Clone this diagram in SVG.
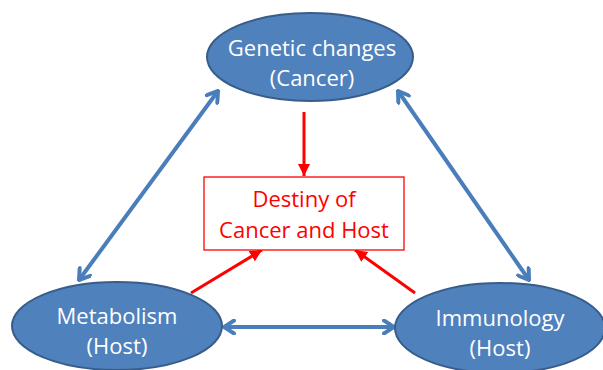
<svg xmlns="http://www.w3.org/2000/svg" width="603" height="370" viewBox="0 0 603 370">
<defs>
<style>
.node ellipse{fill:#4F81BD;stroke:#385D8A;stroke-width:2}
.node text{font-family:"Open Sans","Liberation Sans",sans-serif;font-size:22px;fill:#FFFFFF;text-anchor:middle}
.dest rect{fill:#FFFFFF;stroke:#FF0000;stroke-width:1.3}
.dest text{font-family:"Open Sans","Liberation Sans",sans-serif;font-size:22px;fill:#FF0000;text-anchor:middle}
.blue{stroke:#4A7EBB;stroke-width:4;fill:none;marker-start:url(#bh);marker-end:url(#bh)}
.red{stroke:#FF0000;stroke-width:3;fill:none;marker-end:url(#rh)}
</style>
<marker id="bh" viewBox="0 0 16 16" markerWidth="16" markerHeight="16" markerUnits="userSpaceOnUse" refX="14" refY="8" orient="auto-start-reverse">
<path d="M4,1.5 L14,8 L4,14.5" fill="none" stroke="#4A7EBB" stroke-width="4" stroke-linejoin="miter" stroke-linecap="round"/>
</marker>
<marker id="rh" viewBox="0 0 12 12" markerWidth="12" markerHeight="12" markerUnits="userSpaceOnUse" refX="12" refY="6" orient="auto">
<path d="M0,0 L12,6 L0,12 Z" fill="#FF0000"/>
</marker>
</defs>
<rect width="603" height="370" fill="#FFFFFF"/>
<g id="connectors">
<line class="blue" x1="79" y1="280" x2="218" y2="91"/>
<line class="blue" x1="398" y1="91" x2="529" y2="280"/>
<line class="blue" x1="224" y1="327" x2="394" y2="327"/>
<line class="red" x1="304" y1="112" x2="304" y2="176"/>
<line class="red" x1="191" y1="293" x2="262" y2="250"/>
<line class="red" x1="415" y1="293" x2="355" y2="250"/>
</g>
<g id="genetic" class="node">
<ellipse cx="310" cy="57" rx="103" ry="44"/>
<text x="312" y="56">Genetic changes</text>
<text x="312" y="86">(Cancer)</text>
</g>
<g id="destiny" class="dest">
<rect x="204" y="177" width="200" height="73"/>
<text x="304" y="207">Destiny of</text>
<text x="304" y="238">Cancer and Host</text>
</g>
<g id="metabolism" class="node">
<ellipse cx="117" cy="326" rx="105" ry="44"/>
<text x="117" y="324">Metabolism</text>
<text x="117" y="354">(Host)</text>
</g>
<g id="immunology" class="node">
<ellipse cx="500" cy="328" rx="105" ry="45"/>
<text x="500" y="326">Immunology</text>
<text x="500" y="356">(Host)</text>
</g>
</svg>
